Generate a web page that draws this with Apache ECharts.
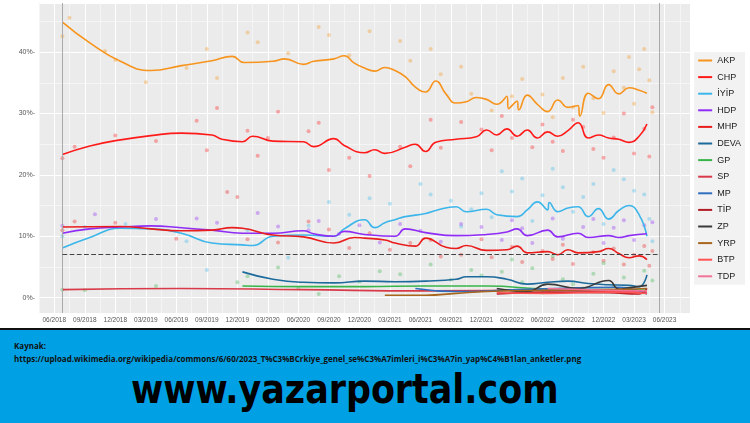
<!DOCTYPE html>
<html>
<head>
<meta charset="utf-8">
<script src="https://cdn.jsdelivr.net/npm/echarts@6/dist/echarts.min.js"></script>
<style>
body{margin:0;width:750px;height:423px;overflow:hidden;background:#fff;font-family:"Open Sans",sans-serif}
#chart{position:absolute;left:0;top:0;width:750px;height:329px}
#banner{position:absolute;left:0;top:328px;width:750px;height:95px;background:#00a1e4;border-top:2px solid #111;box-sizing:border-box}
#src{position:absolute;left:14px;top:9px;font-size:8px;line-height:13px;font-weight:bold;color:#111}
#site{position:absolute;left:131px;top:36px;font-family:"DejaVu Sans Condensed",sans-serif;font-size:40px;line-height:46px;font-weight:bold;color:#000;transform:scaleX(0.97);transform-origin:left top}
</style>
</head>
<body>
<div id="chart"></div>
<div id="banner">
  <div id="src">Kaynak:<br>https://upload.wikimedia.org/wikipedia/commons/6/60/2023_T%C3%BCrkiye_genel_se%C3%A7imleri_i%C3%A7in_yap%C4%B1lan_anketler.png</div>
  <div id="site">www.yazarportal.com</div>
</div>
<script>
// trend lines, [month, value%]
var akp = [['2018-06-24',44.9],['2018-09',41.5],['2018-12',38.5],['2019-03',37.0],['2019-06',37.8],['2019-09',38.6],['2019-11',39.3],['2019-12-20',38.3],['2020-03',38.5],['2020-04-20',38.9],['2020-06',38.0],['2020-07',38.5],['2020-09',38.9],['2020-10',39.4],['2020-11',38.2],['2020-12',37.4],['2021-01',36.9],['2021-02',37.5],['2021-03',37.0],['2021-04',36.0],['2021-05',34.3],['2021-06',33.5],['2021-07',35.3],['2021-08',33.2],['2021-09',31.7],['2021-10',31.9],['2021-11',32.6],['2021-12',32.3],['2022-01',31.5],['2022-02',32.8],['2022-02-20',30.8],['2022-03',32.0],['2022-03-20',30.6],['2022-04',33.0],['2022-05',31.5],['2022-06',30.3],['2022-07',32.2],['2022-08',31.0],['2022-09',31.3],['2022-09-20',29.6],['2022-10',33.3],['2022-11',32.4],['2022-12',34.7],['2023-01',33.2],['2023-02',34.2],['2023-03',33.8],['2023-04-08',33.3]];
var chp = [['2018-06-24',23.3],['2018-09',24.7],['2018-12',25.7],['2019-03',26.4],['2019-06',26.8],['2019-09',26.5],['2019-10',25.8],['2019-12',25.4],['2020-01',26.3],['2020-03',25.5],['2020-06',25.4],['2020-07',24.6],['2020-09',25.9],['2020-10',24.8],['2020-12',23.6],['2021-01',24.1],['2021-02',23.5],['2021-04',24.5],['2021-05',25.0],['2021-06',23.8],['2021-07',25.3],['2021-09',25.8],['2021-11',26.2],['2021-12',27.3],['2022-01',26.5],['2022-02',27.5],['2022-03',26.3],['2022-04',27.3],['2022-05',26.0],['2022-06',27.0],['2022-07',26.3],['2022-08',27.2],['2022-09',28.5],['2022-10',26.0],['2022-11',26.5],['2022-12',26.0],['2023-01',25.8],['2023-02',25.3],['2023-03',26.3],['2023-04-08',28.3]];
var iyi = [['2018-06-24',8.1],['2018-09',9.8],['2018-12',11.3],['2019-03',11.2],['2019-06',10.5],['2019-09',8.9],['2019-12',8.6],['2020-01',8.5],['2020-03',10.0],['2020-06',10.2],['2020-09',10.0],['2020-10',11.2],['2020-12',12.7],['2021-01',11.4],['2021-02',12.2],['2021-03',12.7],['2021-04',13.2],['2021-06',13.7],['2021-07',14.2],['2021-09',14.8],['2021-10',14.0],['2021-12',14.4],['2022-01',13.5],['2022-03',13.2],['2022-04',14.3],['2022-05',15.6],['2022-06',14.3],['2022-06-20',15.5],['2022-07',14.0],['2022-08',14.6],['2022-09',14.8],['2022-10',13.2],['2022-11',14.5],['2022-12',12.8],['2023-01',14.2],['2023-02',15.0],['2023-03',13.5],['2023-04-08',10.0]];
var hdp = [['2018-06-24',10.5],['2018-09',11.2],['2018-12',11.5],['2019-03',11.7],['2019-06',11.4],['2019-09',11.0],['2019-12',10.5],['2020-03',10.5],['2020-06',10.9],['2020-07',10.4],['2020-09',10.0],['2020-10',10.8],['2020-12',10.3],['2021-03',10.0],['2021-04',11.2],['2021-06',10.6],['2021-09',10.1],['2021-12',10.3],['2022-02',10.7],['2022-03',11.2],['2022-04',10.1],['2022-06',11.0],['2022-07',9.9],['2022-09',10.5],['2022-10',9.8],['2022-12',10.1],['2023-01',9.8],['2023-02',10.1],['2023-04-08',10.4]];
var mhp = [['2018-06-24',11.5],['2018-12',11.6],['2019-03',11.2],['2019-06',10.9],['2019-09',11.0],['2019-11',11.4],['2019-12',11.3],['2020-03',10.2],['2020-06',9.9],['2020-09',8.9],['2020-11',9.8],['2020-12',9.7],['2021-02',9.4],['2021-03',8.9],['2021-05',8.4],['2021-06',9.7],['2021-08',8.2],['2021-09',8.0],['2021-10',8.5],['2021-12',7.7],['2022-02',7.8],['2022-03',8.4],['2022-04',7.3],['2022-06',7.5],['2022-07',7.0],['2022-08',7.8],['2022-09',7.3],['2022-11',7.5],['2022-12',8.0],['2023-01',7.2],['2023-02',6.5],['2023-03',6.8],['2023-04-08',6.2]];
var deva = [['2019-12',4.2],['2020-03',3.0],['2020-06',2.5],['2020-09',2.4],['2020-12',2.7],['2021-03',2.6],['2021-06',2.7],['2021-09',3.0],['2021-10',3.4],['2021-12',3.4],['2022-02',3.0],['2022-04',2.2],['2022-06',2.5],['2022-08',2.7],['2022-10',2.3],['2022-12',2.1],['2023-02',2.0],['2023-03',1.8],['2023-04-08',3.7]];
var gp = [['2019-12',1.9],['2020-06',1.8],['2020-12',1.8],['2021-06',1.9],['2021-12',1.9],['2022-06',1.4],['2022-12',1.3],['2023-04-08',1.2]];
var sp = [['2018-06-24',1.3],['2019-06',1.5],['2020-06',1.3],['2021-06',1.1],['2022-06',1.2],['2022-12',1.0],['2023-04-08',0.9]];
var mp = [['2021-05',1.5],['2021-09',1.0],['2022-03',1.3],['2022-09',1.6],['2023-01',1.7],['2023-04-08',0.6]];
var tip = [['2022-01',0.6],['2022-06',0.9],['2022-12',0.8],['2023-03',0.6],['2023-04-08',1.5]];
var zp = [['2022-01',1.5],['2022-04',1.0],['2022-06',2.2],['2022-09',1.5],['2022-12',2.8],['2023-01',1.4],['2023-02',1.6],['2023-04-08',2.0]];
var yrp = [['2021-02',0.4],['2021-06',0.4],['2021-09',0.7],['2021-12',1.0],['2022-06',1.2],['2022-12',1.3],['2023-04-08',1.5]];
var btp = [['2022-01',0.8],['2022-06',0.7],['2022-12',0.9],['2023-04-08',0.7]];
var tdp = [['2022-06',1.5],['2022-12',1.2],['2023-04-08',1.1]];

// individual polls, [months after 06/2018, value%]
var akpPts = [[0.8,42.6],[1.5,45.6],[5,40.2],[6,38.7],[9,35.1],[13,37.4],[15,40.5],[16,35.8],[19,43.2],[20,41.6],[23,39.8],[26,44.1],[27,42.8],[29,39.5],[31,43.4],[34,41.8],[35,38.6],[37,40.5],[38,36.4],[40,37.6],[41,33.2],[43,30.5],[45,32.8],[46,35.6],[48,33.1],[49,29.4],[50,35.8],[51,31.0],[52,37.6],[53,32.5],[54,30.1],[55,36.9],[56,34.2],[56.5,39.2],[57,31.6],[57.5,37.2],[58,40.5],[58.5,35.4],[58.8,30.2]];
var chpPts = [[0.8,22.7],[2,24.6],[6,26.4],[10,25.5],[14,28.8],[15,24.0],[16,30.9],[19,27.2],[20,23.1],[21,26.0],[22,30.3],[25,27.1],[26,28.5],[27,20.8],[29,22.8],[31,19.8],[34,24.6],[35,21.4],[37,29.0],[38,24.4],[40,28.6],[42,27.4],[43,24.0],[44,29.6],[45,26.0],[47,24.5],[48,28.2],[49,25.4],[50,23.9],[51,29.0],[52,27.8],[53,24.2],[54,22.8],[55,26.1],[56,30.0],[57,23.5],[58,27.5],[58.5,23.0],[58.8,31.0]];
var iyiPts = [[0.8,10.0],[3,11.5],[7,12.0],[13,9.2],[15,4.5],[19,11.0],[23,6.5],[25,11.7],[27,15.6],[29,13.5],[31,16.2],[33,15.3],[36,18.5],[37,16.8],[39,15.8],[40,11.6],[41,14.4],[42,17.0],[43,13.1],[44,20.6],[45,17.3],[46,19.4],[47,12.5],[48,16.7],[49,21.0],[50,18.0],[51,14.0],[52,16.4],[53,18.5],[54,12.0],[55,20.8],[56,19.3],[57,17.4],[58,16.8],[58.5,12.8],[58.8,9.2]];
var hdpPts = [[0.8,11.7],[4,13.6],[10,12.8],[14,12.9],[16,12.2],[20,13.8],[22,11.6],[25,11.0],[26,12.5],[28,10.4],[30,11.8],[32,9.0],[34,12.0],[36,10.9],[38,9.1],[40,12.0],[42,11.5],[44,9.4],[45,12.6],[46,11.3],[47,8.9],[49,12.9],[50,9.6],[52,11.5],[53,12.8],[54,8.9],[55,11.4],[56,12.6],[57,9.4],[58,11.8],[58.8,12.3]];
var mhpPts = [[0.8,11.0],[2,12.4],[6,12.2],[12,9.6],[17,17.2],[18,16.4],[19,9.5],[22,9.0],[25,12.4],[27,11.1],[29,8.1],[31,10.5],[33,7.8],[35,8.9],[37,9.4],[38,6.7],[40,7.0],[42,9.5],[43,6.6],[45,8.3],[46,5.8],[48,7.6],[49,6.3],[50,8.6],[51,5.5],[53,7.4],[54,6.0],[55,8.0],[56,5.4],[57,7.0],[58,8.4],[58.5,5.2],[58.8,7.6]];
var smallPts = [[0.8,1.3],[3,1.2],[10,1.9],[18,2.5],[19,3.5],[22,4.9],[24,1.5],[26,0.6],[28,3.5],[30,2.6],[32,4.3],[34,3.8],[36,1.2],[37,5.4],[39,2.9],[41,4.5],[42,3.6],[44,4.2],[45,6.2],[46,2.5],[47,4.8],[48,0.8],[49,6.8],[50,3.0],[51,2.2],[52,1.5],[53,3.9],[54,5.6],[55,2.0],[56,3.3],[57,1.0],[58,4.4],[58.8,2.8]];

var parties = ['AKP','CHP','İYİP','HDP','MHP','DEVA','GP','SP','MP','TİP','ZP','YRP','BTP','TDP'];
var colors = ['#f7941d','#ff1a1a','#3cb6ea','#8f2cf5','#ea1d1d','#1d6a9c','#38b54a','#d93a49','#2f6fbf','#b01c24','#3a3a3a','#a8651d','#ff5252','#f27398'];
var lines = [akp,chp,iyi,hdp,mhp,deva,gp,sp,mp,tip,zp,yrp,btp,tdp];
var points = [akpPts,chpPts,iyiPts,hdpPts,mhpPts,smallPts];
var pointColors = ['#f7941d','#ff1a1a','#3cb6ea','#8f2cf5','#ea1d1d','#38b54a'];

function mo(s) {
  var p = s.split('-');
  var d = p[2] ? (+p[2]) / 30 : 0.5;
  return (+p[0] - 2018) * 12 + (+p[1] - 6) + d;
}

var series = [];
points.forEach(function (pts, i) {
  series.push({
    type: 'scatter', symbolSize: 4, silent: true,
    itemStyle: {color: pointColors[i], opacity: 0.35},
    data: pts
  });
});
lines.forEach(function (l, i) {
  series.push({
    name: parties[i], type: 'line', smooth: true, showSymbol: false,
    color: colors[i], lineStyle: {width: 1.6},
    data: l.map(function (d) { return [mo(d[0]), d[1]]; })
  });
});
// election lines and 7% threshold
series.push({
  type: 'line', data: [], silent: true,
  markLine: {
    symbol: 'none', silent: true, label: {show: false},
    data: [
      {xAxis: mo('2018-06-24'), lineStyle: {color: '#aaaaaa', type: 'solid', width: 1}},
      {xAxis: mo('2023-05-14'), lineStyle: {color: '#aaaaaa', type: 'solid', width: 1}},
      [{coord: [mo('2018-06-24'), 7], lineStyle: {color: '#444', type: 'dashed', width: 1.2}}, {coord: [mo('2023-05-14'), 7]}]
    ]
  }
});

var myChart = echarts.init(document.getElementById('chart'));
myChart.setOption({
  animation: false,
  grid: {left: 39, right: 60, top: 3, bottom: 16, backgroundColor: '#ebebeb', show: true, borderWidth: 0},
  legend: {
    data: parties, orient: 'vertical', right: 5, top: 52,
    itemWidth: 14, itemHeight: 2, itemGap: 7.6, icon: 'rect',
    backgroundColor: '#f2f2f2', padding: [4, 4, 4, 4],
    textStyle: {fontSize: 9, color: '#222', fontFamily: 'Liberation Sans'}
  },
  xAxis: {
    type: 'value', min: -1.5, max: 62.5, interval: 1.5,
    axisLine: {show: false}, axisTick: {show: false},
    splitLine: {lineStyle: {color: ['#f5f5f5', '#ffffff'], width: 1}},
    axisLabel: {
      fontSize: 6.5, color: '#555', margin: 4, fontFamily: 'Liberation Sans',
      formatter: function (v) {
        if (Math.abs(v % 3) > 0.01) return '';
        var m = 5 + v, y = 2018 + Math.floor(m / 12);
        var mm = (m % 12) + 1;
        return (mm < 10 ? '0' : '') + mm + '/' + y;
      }
    }
  },
  yAxis: {
    type: 'value', min: -2.5, max: 48, interval: 2.5,
    axisLine: {show: false}, axisTick: {show: false},
    splitLine: {lineStyle: {color: ['rgba(0,0,0,0)', '#ffffff', 'rgba(0,0,0,0)', '#f5f5f5'], width: 1}},
    axisLabel: {
      fontSize: 7, color: '#555', margin: 4, fontFamily: 'Liberation Sans',
      formatter: function (v) { return Math.abs(v % 10) < 0.01 && v >= 0 ? v + '%-' : ''; }
    }
  },
  series: series
});
</script>
</body>
</html>
